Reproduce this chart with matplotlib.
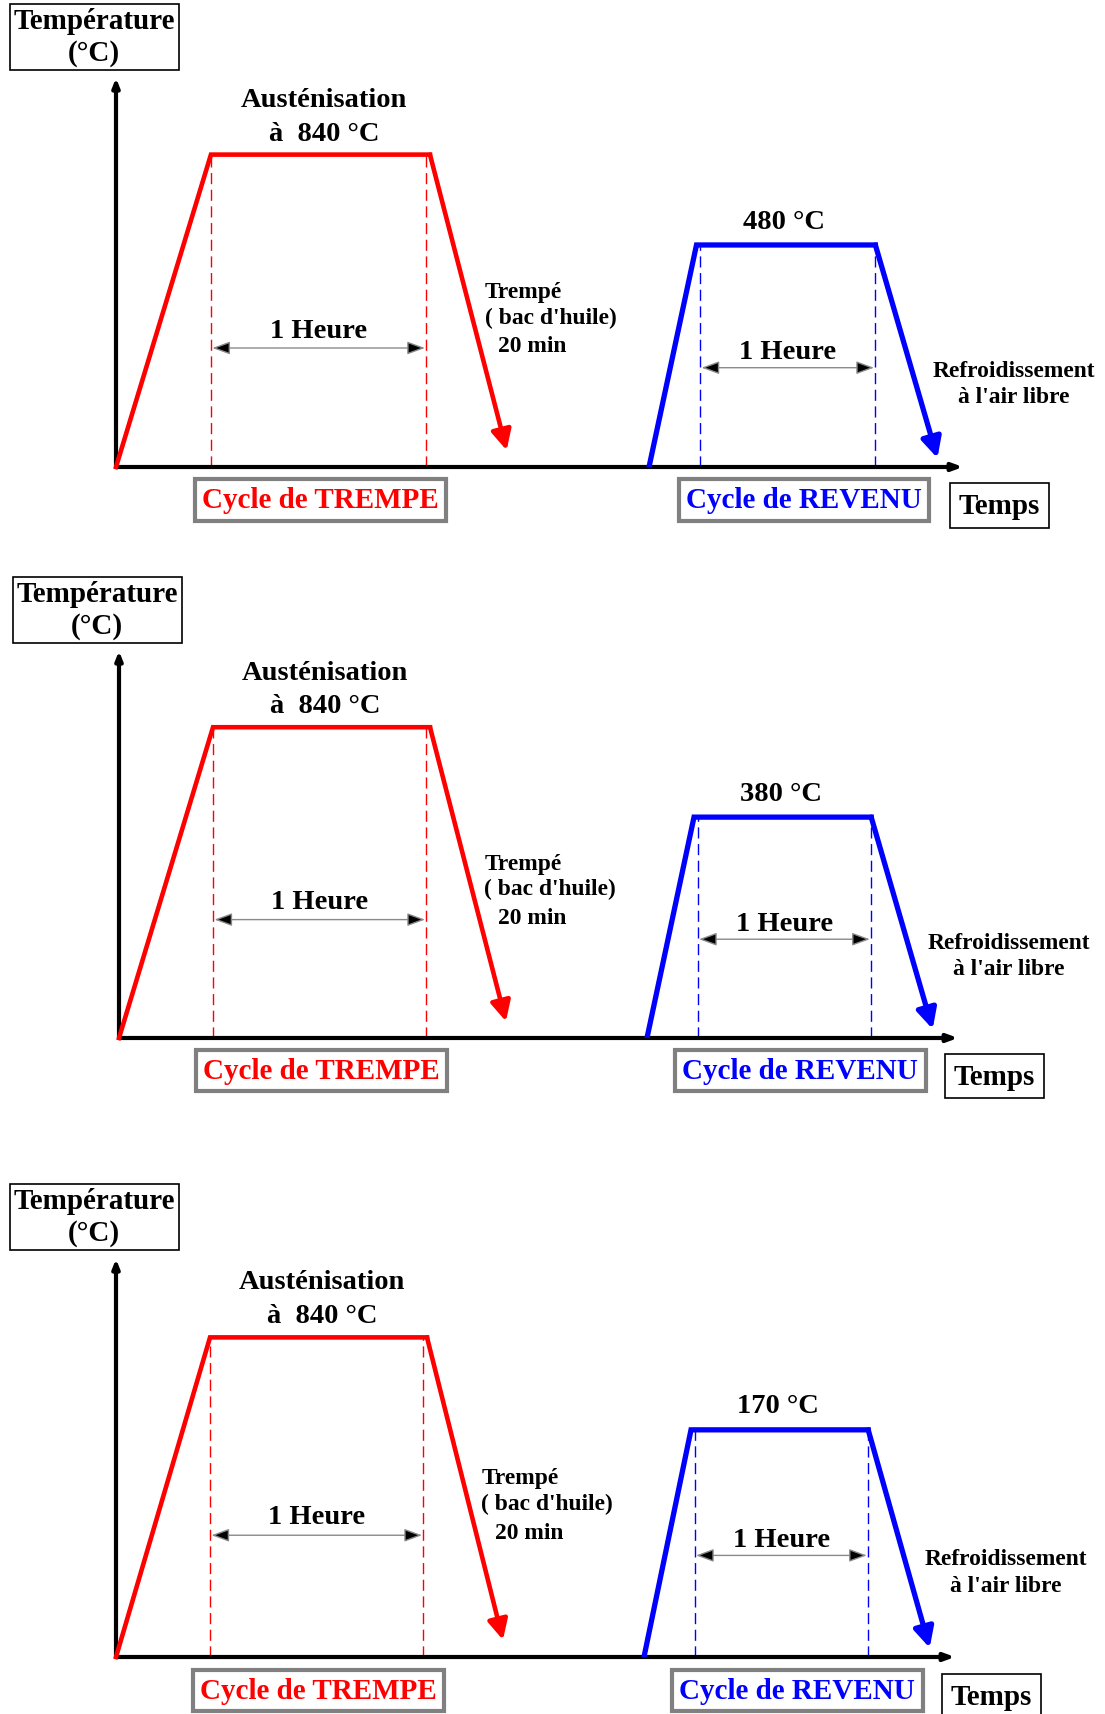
import matplotlib
matplotlib.use("Agg")
import matplotlib.pyplot as plt

plt.rcParams.update({
    "font.family": "serif",
    "font.serif": ["Liberation Serif", "DejaVu Serif"],
    "font.weight": "bold",
})

RED = "#FF0000"
BLUE = "#0000FF"
GREY = "#808080"

# ----------------------------------------------------------------------
# Data: time in min, temperature in degC
# (tempering plateau is drawn at a fixed schematic height, as in the original)
# ----------------------------------------------------------------------
quench_time = [0, 26, 86, 107]
quench_temp = [0, 840, 840, 45]
temper_time = [146, 159, 208, 225]
temper_level = [0, 597, 597, 24]
temper_labels = ["480 °C", "380 °C", "170 °C"]
hold_quench = [26, 85]
hold_temper = [160, 208]
aust_label = "à  840 °C"
t_max = 232
T_max = 1046

# panel placement in pixels: origin x, origin y, y-axis top, x-axis end
W, H = 1105, 1715
panels = [(116, 468, 79, 963), (119, 1039, 652, 958), (116, 1658, 1260, 955)]

fig = plt.figure(figsize=(W / 100, H / 100), dpi=100)

for (ox, oy, yt, xe), tlabel in zip(panels, temper_labels):
    ax = fig.add_axes([ox / W, 1 - oy / H, (xe - ox) / W, (oy - yt) / H])
    ax.set_xlim(0, t_max)
    ax.set_ylim(0, T_max)
    ax.axis("off")

    # axes with arrows
    ax.annotate("", xy=(0, T_max), xytext=(0, 0), annotation_clip=False,
                arrowprops=dict(arrowstyle="-|>,head_length=0.5,head_width=0.2",
                                lw=3, color="black", shrinkA=0, shrinkB=0))
    ax.annotate("", xy=(t_max, 0), xytext=(0, 0), annotation_clip=False,
                arrowprops=dict(arrowstyle="-|>,head_length=0.6,head_width=0.22",
                                lw=3, color="black", shrinkA=0, shrinkB=0))

    # quench cycle
    ax.plot(quench_time[:3], quench_temp[:3], color=RED, lw=3.3,
            solid_joinstyle="miter", clip_on=False, zorder=3)
    ax.annotate("", xy=(quench_time[3], quench_temp[3]),
                xytext=(quench_time[2], quench_temp[2]),
                arrowprops=dict(arrowstyle="-|>,head_length=0.6,head_width=0.3",
                                lw=3.3, color=RED, shrinkA=0, shrinkB=0,
                                mutation_scale=20))
    ax.vlines(hold_quench, 0, quench_temp[1], colors=RED, lw=1,
              linestyles=(0, (8, 4)))

    # tempering cycle
    ax.plot(temper_time[:3], temper_level[:3], color=BLUE, lw=3.8,
            solid_joinstyle="miter", zorder=3)
    ax.annotate("", xy=(temper_time[3], temper_level[3]),
                xytext=(temper_time[2], temper_level[2]),
                arrowprops=dict(arrowstyle="-|>,head_length=0.6,head_width=0.3",
                                lw=3.8, color=BLUE, shrinkA=0, shrinkB=0,
                                mutation_scale=20))
    ax.vlines(hold_temper, 0, temper_level[1], colors=BLUE, lw=1,
              linestyles=(0, (8, 4)))

    # holding time arrows
    for (a, b), yh, yl in [(hold_quench, 320, 368), (hold_temper, 267, 310)]:
        ax.annotate("", xy=(b, yh), xytext=(a, yh),
                    arrowprops=dict(arrowstyle="<|-|>,head_length=0.6,head_width=0.22",
                                    lw=1.0, ec="#8a8a8a", fc="black",
                                    shrinkA=1, shrinkB=1, mutation_scale=18))
        ax.text((a + b) / 2, yl, "1 Heure", ha="center", va="center", fontsize=20.5)

    # labels
    ax.text(57, 988, "Austénisation", ha="center", va="center", fontsize=20.5)
    ax.text(57, 898, aust_label, ha="center", va="center", fontsize=20.5)
    ax.text(101, 471, "Trempé", ha="left", va="center", fontsize=16.9)
    ax.text(101, 403, "( bac d'huile)", ha="left", va="center", fontsize=16.9)
    ax.text(104.7, 327, "20 min", ha="left", va="center", fontsize=16.9)
    ax.text(183, 660, tlabel, ha="center", va="center", fontsize=20.5)
    ax.text(246, 259, "Refroidissement", ha="center", va="center", fontsize=16.9)
    ax.text(246, 189, "à l'air libre", ha="center", va="center", fontsize=16.9)

    ax.text(-6, 1157, "Température\n(°C)", ha="center", va="center", fontsize=21,
            linespacing=1.22,
            bbox=dict(boxstyle="square,pad=0.13", fc="white", ec="black", lw=1.2))
    ax.text(56, -88, "Cycle de TREMPE", ha="center", va="center", fontsize=21,
            color=RED,
            bbox=dict(boxstyle="square,pad=0.25", fc="white", ec=GREY, lw=3))
    ax.text(188.4, -88, "Cycle de REVENU", ha="center", va="center", fontsize=21,
            color=BLUE,
            bbox=dict(boxstyle="square,pad=0.25", fc="white", ec=GREY, lw=3))
    ax.text(242, -103, "Temps", ha="center", va="center", fontsize=21,
            bbox=dict(boxstyle="square,pad=0.3", fc="white", ec="black", lw=1.2))

fig.savefig("out.png", dpi=100, facecolor="white")
